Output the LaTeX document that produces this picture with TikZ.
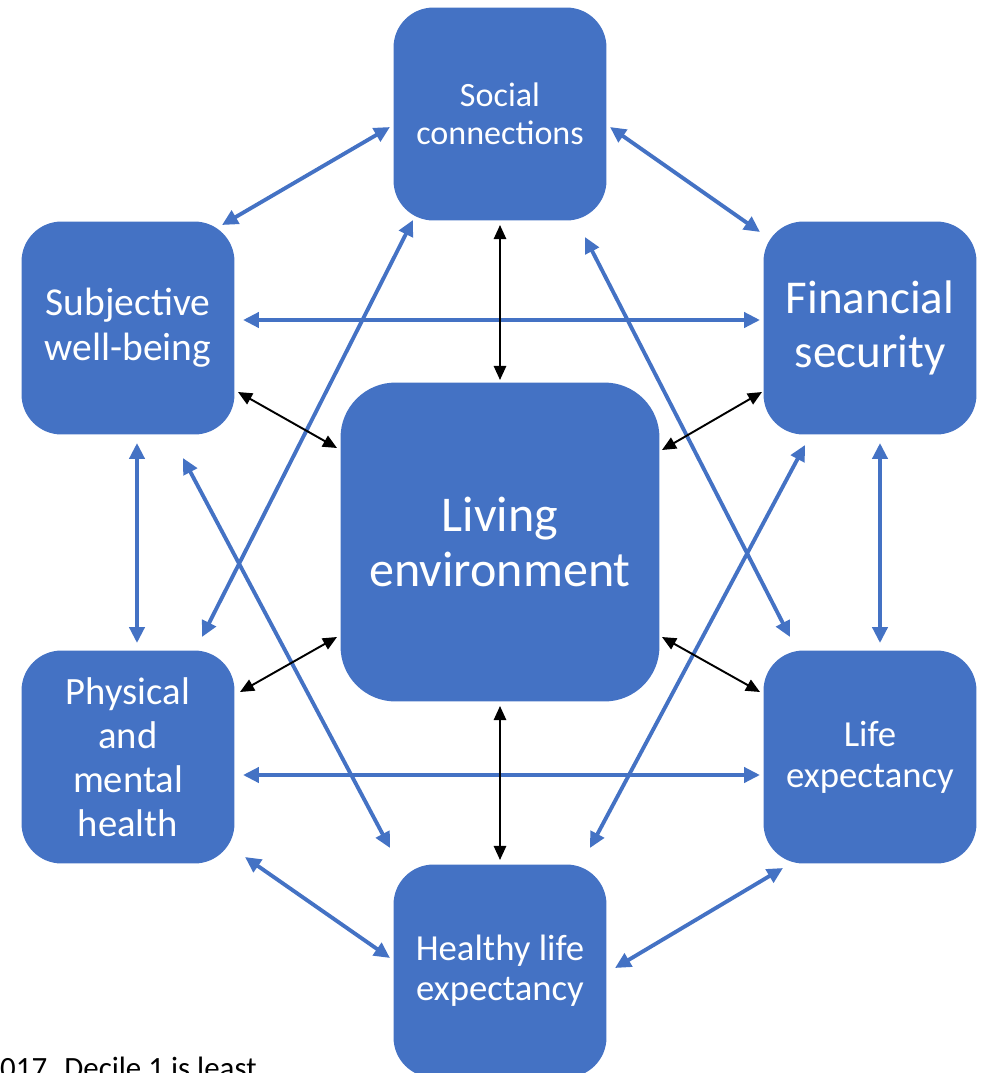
\documentclass[tikz,border=0pt]{standalone}
\usepackage{fontspec}
\setmainfont{Carlito}
\usepackage{tikz}
\usetikzlibrary{shapes,arrows.meta,positioning}
\definecolor{officeblue}{HTML}{4472C4}

\begin{document}
\begin{tikzpicture}[x=0.02cm, y=-0.02cm,
    box/.style={fill=officeblue, rectangle, rounded corners=0.8cm, minimum width=4.26cm, minimum height=4.26cm, text=white, align=center},
    bigbox/.style={box, rounded corners=1.1cm, minimum width=6.38cm, minimum height=6.38cm},
    link/.style={officeblue, line width=2.2pt, {Triangle[length=9pt, width=8.5pt]}-{Triangle[length=9pt, width=8.5pt]}},
    core/.style={black, line width=1.1pt, {Triangle[length=8pt, width=7pt]}-{Triangle[length=8pt, width=7pt]}}]
    \useasboundingbox (0,0) rectangle (987,1073);
    \clip (0,0) rectangle (987,1073);
    % boxes
    \node (social) [box, font=\fontsize{19.4}{21.5}\selectfont] at (500,114) {Social\\connections};
    \node (subjective) [box, font=\fontsize{22.5}{25.5}\selectfont] at (128,328) {Subjective\\well-being};
    \node (financial) [box, font=\fontsize{26.8}{31}\selectfont] at (870,328) {Financial\\security};
    \node (living) [bigbox, font=\fontsize{28.5}{31.7}\selectfont] at (500,542) {Living\\environment};
    \node (physical) [box, font=\fontsize{22}{25}\selectfont] at (128,757) {Physical\\and\\mental\\health};
    \node (life) [box, font=\fontsize{20.9}{23.2}\selectfont] at (870,757) {Life\\expectancy};
    \node (healthy) [box, font=\fontsize{20.9}{22.7}\selectfont] at (500,971) {Healthy life\\expectancy};
    \node (note) [anchor=base west, font=\fontsize{17.6}{21}\selectfont] at (-6,1078) {017. Decile 1 is least};
    % links round the ring
    \draw[link] ([shift={(94,-103)}]subjective.center) -- ([shift={(-110,13)}]social.center);
    \draw[link] ([shift={(110,13)}]social.center) -- ([shift={(-110,-96)}]financial.center);
    \draw[link] ([shift={(115,-8)}]subjective.center) -- ([shift={(-110,-8)}]financial.center);
    \draw[link] ([shift={(9,115)}]subjective.center) -- ([shift={(9,-114)}]physical.center);
    \draw[link] ([shift={(10,115)}]financial.center) -- ([shift={(10,-114)}]life.center);
    \draw[link] ([shift={(115,18)}]physical.center) -- ([shift={(-110,18)}]life.center);
    \draw[link] ([shift={(117,100)}]physical.center) -- ([shift={(-110,-13)}]healthy.center);
    \draw[link] ([shift={(115,-3)}]healthy.center) -- ([shift={(-87,111)}]life.center);
    % long diagonals
    \draw[link] ([shift={(74,-120)}]physical.center) -- ([shift={(-87,106)}]social.center);
    \draw[link] ([shift={(55,130)}]subjective.center) -- ([shift={(-110,-123)}]healthy.center);
    \draw[link] ([shift={(85,123)}]social.center) -- ([shift={(-80,-120)}]life.center);
    \draw[link] ([shift={(-65,117)}]financial.center) -- ([shift={(90,-123)}]healthy.center);
    % links to the centre
    \draw[core] ([shift={(0,111)}]social.center) -- ([shift={(0,-162)}]living.center);
    \draw[core] ([shift={(110,64)}]subjective.center) -- ([shift={(-163,-94)}]living.center);
    \draw[core] ([shift={(-108,64)}]financial.center) -- ([shift={(162,-92)}]living.center);
    \draw[core] ([shift={(-163,95)}]living.center) -- ([shift={(112,-65)}]physical.center);
    \draw[core] ([shift={(162,95)}]living.center) -- ([shift={(-110,-65)}]life.center);
    \draw[core] ([shift={(0,164)}]living.center) -- ([shift={(0,-111)}]healthy.center);
\end{tikzpicture}
\end{document}
